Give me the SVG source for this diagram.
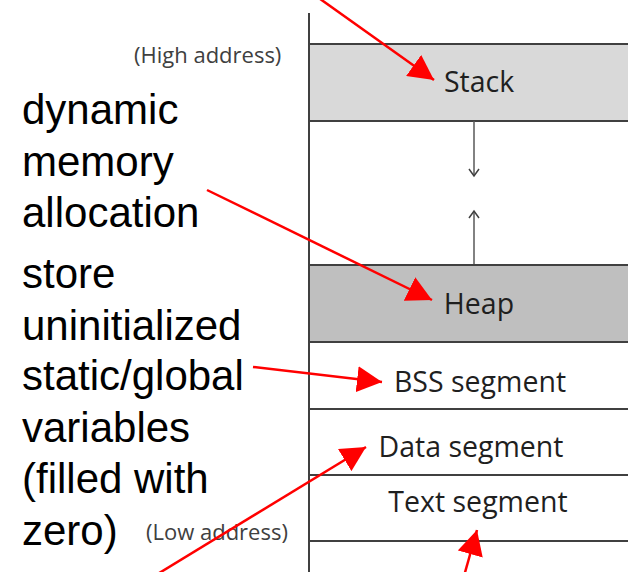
<svg xmlns="http://www.w3.org/2000/svg" width="628" height="572" viewBox="0 0 628 572">
  <style>
    .seg { stroke: #404040; stroke-width: 2; }
    .lbl { font-family: "Open Sans", "DejaVu Sans", sans-serif; font-size: 28.5px; fill: #1f1f1f; text-anchor: middle; }
    .addr { font-family: "Open Sans", "DejaVu Sans", sans-serif; font-size: 22px; fill: #404040; }
    .note { font-family: "Liberation Sans", Arial, sans-serif; font-size: 42px; fill: #000; }
    .red { stroke: #ff0000; stroke-width: 2.5; fill: none; marker-end: url(#rh); }
    .grow { stroke: #595959; stroke-width: 1.5; fill: none; marker-end: url(#ch); }
  </style>
  <defs>
    <marker id="rh" markerUnits="userSpaceOnUse" markerWidth="26" markerHeight="26" refX="25" refY="13" orient="auto" viewBox="0 0 26 26">
      <path d="M0,0 L25,13 L0,26 z" fill="#ff0000"/>
    </marker>
    <marker id="ch" markerUnits="userSpaceOnUse" markerWidth="12" markerHeight="12" refX="8" refY="6" orient="auto" viewBox="0 0 12 12">
      <path d="M1,1 L8,6 L1,11" fill="none" stroke="#404040" stroke-width="1.5"/>
    </marker>
  </defs>
  <rect width="628" height="572" fill="#ffffff"/>

  <g id="memory-column">
    <line class="seg" x1="309" y1="13" x2="309" y2="572"/>
  </g>
  <g id="stack">
    <rect class="seg" x="309" y="44" width="330" height="77" fill="#d9d9d9"/>
    <text class="lbl" x="479" y="92">Stack</text>
  </g>
  <g id="free-space">
    <line class="grow" x1="474" y1="121" x2="474" y2="176"/>
    <line class="grow" x1="474" y1="265" x2="474" y2="211"/>
  </g>
  <g id="heap">
    <rect class="seg" x="309" y="265" width="330" height="77" fill="#bfbfbf"/>
    <text class="lbl" x="479" y="314">Heap</text>
  </g>
  <g id="bss">
    <rect class="seg" x="309" y="342" width="330" height="67" fill="#ffffff"/>
    <text class="lbl" x="480" y="392">BSS segment</text>
  </g>
  <g id="data">
    <rect class="seg" x="309" y="409" width="330" height="66" fill="#ffffff"/>
    <text class="lbl" x="471" y="457">Data segment</text>
  </g>
  <g id="text-seg">
    <rect class="seg" x="309" y="475" width="330" height="66" fill="#ffffff"/>
    <text class="lbl" x="478" y="512">Text segment</text>
  </g>
  <g id="high-address">
    <text class="addr" x="134" y="63">(High address)</text>
  </g>
  <g id="low-address">
    <text class="addr" x="146" y="540">(Low address)</text>
  </g>
  <g id="heap-note">
    <text class="note" x="22" y="124">dynamic</text>
    <text class="note" x="22" y="176">memory</text>
    <text class="note" x="22" y="227">allocation</text>
  </g>
  <g id="bss-note">
    <text class="note" x="22" y="288">store</text>
    <text class="note" x="22" y="340">uninitialized</text>
    <text class="note" x="22" y="390">static/global</text>
    <text class="note" x="22" y="442">variables</text>
    <text class="note" x="22" y="493">(filled with</text>
    <text class="note" x="22" y="545">zero)</text>
  </g>

  <g id="connectors">
    <line class="red" x1="316" y1="-4" x2="434" y2="80"/>
    <line class="red" x1="207" y1="190" x2="432" y2="300"/>
    <line class="red" x1="253" y1="367" x2="382" y2="382"/>
    <line class="red" x1="156" y1="575" x2="366" y2="447"/>
    <line class="red" x1="464" y1="576" x2="477" y2="530"/>
  </g>
</svg>
